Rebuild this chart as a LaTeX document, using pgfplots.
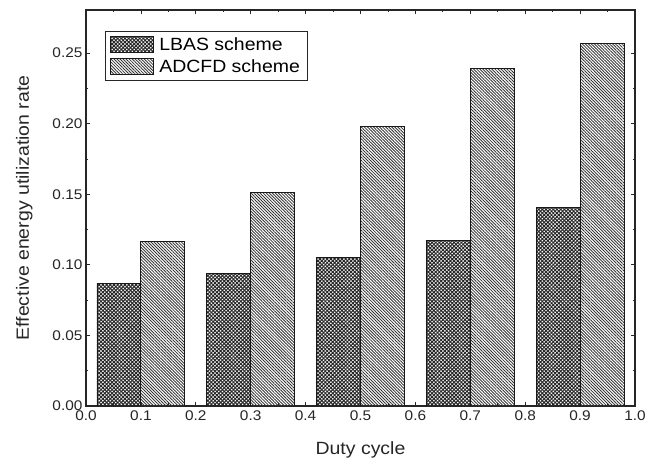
\documentclass[border=0pt]{standalone}
\usepackage{pgfplots}
\pgfplotsset{compat=1.18}
\usepackage{fontspec}
\setmainfont{Liberation Sans}[FakeStretch=1.1]
\usetikzlibrary{patterns.meta}

% legend swatch: a plain rectangle filled with the plot's pattern
\pgfplotsset{patchlegend/.style={legend image code/.code={\draw[##1] (0pt,-8pt) rectangle (43pt,8pt);}}}

\pgfplotstableread{
x     y
0.06  0.0869
0.26  0.0937
0.46  0.1053
0.66  0.1173
0.86  0.1404
}\lbas
\pgfplotstableread{
x     y
0.14  0.1164
0.34  0.1511
0.54  0.1983
0.74  0.2391
0.94  0.2569
}\adcfd

\begin{document}
\begin{tikzpicture}
\path[use as bounding box] (-86pt,-59pt) rectangle (575pt,406pt);
\begin{axis}[
  scale only axis,
  width=549pt, height=396pt,
  at={(0,0)}, anchor=south west,
  xmin=0, xmax=1, ymin=0, ymax=0.2805,
  xtick={0,0.1,...,1.01},
  ytick={0,0.05,...,0.26},
  minor x tick num=1, minor y tick num=1,
  tick align=inside,
  major tick length=4pt, minor tick length=2.5pt,
  tick style={line width=0.8pt, black!85},
  axis line style={line width=1.1pt, black!85},
  xticklabel style={yshift=-1.5pt, /pgf/number format/.cd, fixed, fixed zerofill, precision=1},
  yticklabel style={/pgf/number format/.cd, fixed, fixed zerofill, precision=2},
  /pgf/number format/assume math mode=true,
  ticklabel style={font=\fontsize{14}{16}\selectfont, text=black!85},
  xlabel={Duty cycle},
  ylabel={Effective energy utilization rate},
  label style={font=\fontsize{17.7}{20}\selectfont, text=black!85},
  xlabel style={at={([yshift=-49pt]axis description cs:0.5,0)}, anchor=base},
  ylabel style={at={([xshift=-57pt]axis description cs:0,0.5)}, anchor=base, rotate=0},
  legend style={at={([xshift=19pt,yshift=-21pt]axis description cs:0,1)}, anchor=north west,
    font=\fontsize{17.7}{20}\selectfont, draw=black!85, line width=0.8pt,
    inner xsep=5pt, inner ysep=4pt, row sep=4pt, column sep=3pt},
  legend cell align=left,
]
\addplot[ybar, bar width=0.08, bar shift=0pt, draw=black!90, line width=0.9pt,
  pattern={Hatch[angle=45, distance=2.6pt, line width=1.0pt]}, pattern color=black!85,
  patchlegend]
  table[x=x, y=y] {\lbas};
\addlegendentry{LBAS scheme}
\addplot[ybar, bar width=0.08, bar shift=0pt, draw=black!90, line width=0.9pt,
  pattern={Lines[angle=-45, distance=2.15pt, line width=0.85pt]}, pattern color=black!80,
  patchlegend]
  table[x=x, y=y] {\adcfd};
\addlegendentry{ADCFD scheme}
\end{axis}
\end{tikzpicture}
\end{document}
